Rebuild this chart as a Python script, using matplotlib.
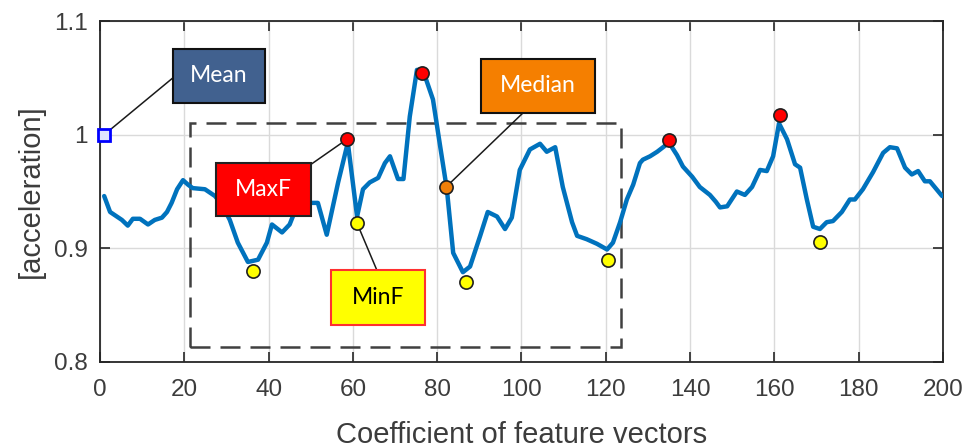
import matplotlib
matplotlib.use("Agg")
from matplotlib import pyplot as plt
from matplotlib.patches import Rectangle

# acceleration trace along the feature-vector coefficients
coef = [1, 2.4, 4, 5.2, 6.6, 7.8, 9.5, 11.4, 13, 14.7, 15.9, 17, 18.3, 19.7, 20.9,
        22, 24.9, 27.3, 29, 30.8, 32.7, 35.1, 37.5, 39.6, 40.8, 43.2, 45, 46.5, 48,
        49.8, 51.7, 53.8, 56.5, 58.8, 61, 62.4, 64, 66, 67.6, 68.8, 70.7, 72, 73.5,
        75.2, 76.6, 79, 80.7, 82.3, 83.8, 86.1, 87.8, 90.2, 92, 94.2, 96.1, 97.7,
        99.6, 102, 104.4, 106, 108, 109.8, 112, 113.2, 115.5, 117.9, 120.3, 121.7,
        123.4, 125, 126.5, 128.1, 128.8, 130.5, 132.2, 133.6, 135, 136.9, 138.3,
        140.5, 142.3, 144.7, 146.1, 147.1, 148.8, 151.1, 153, 154.7, 156.6, 158.2,
        159.7, 161.1, 163, 164.9, 166.1, 167.7, 169.2, 170.8, 172.4, 173.9, 176,
        177.9, 179.1, 181, 183.4, 185.8, 187.4, 189.1, 191, 192.6, 194.1, 195.7,
        196.9, 199.8]
accel = [0.946, 0.932, 0.928, 0.925, 0.920, 0.926, 0.926, 0.921, 0.925, 0.927, 0.932,
         0.940, 0.952, 0.960, 0.956, 0.953, 0.952, 0.946, 0.938, 0.925, 0.905, 0.888,
         0.890, 0.905, 0.921, 0.914, 0.921, 0.935, 0.942, 0.940, 0.940, 0.912, 0.958,
         0.993, 0.928, 0.952, 0.958, 0.962, 0.975, 0.981, 0.961, 0.961, 1.016, 1.057,
         1.057, 1.031, 0.990, 0.952, 0.896, 0.879, 0.884, 0.911, 0.932, 0.928, 0.917,
         0.927, 0.969, 0.987, 0.992, 0.985, 0.989, 0.954, 0.923, 0.911, 0.908, 0.904,
         0.899, 0.905, 0.923, 0.943, 0.956, 0.975, 0.978, 0.981, 0.985, 0.989, 0.993,
         0.982, 0.972, 0.963, 0.954, 0.947, 0.941, 0.936, 0.937, 0.950, 0.947, 0.954,
         0.969, 0.968, 0.981, 1.010, 0.996, 0.974, 0.971, 0.943, 0.919, 0.917, 0.923,
         0.924, 0.932, 0.943, 0.943, 0.952, 0.967, 0.984, 0.989, 0.988, 0.971, 0.965,
         0.968, 0.959, 0.959, 0.946]

# local extrema and summary points
maxf_x = [58.6, 76.4, 135, 161.3]
maxf_y = [0.996, 1.054, 0.995, 1.017]
minf_x = [36.3, 61, 86.8, 120.5, 170.8]
minf_y = [0.880, 0.922, 0.870, 0.890, 0.906]
median_x, median_y = 82.1, 0.954
mean_x, mean_y = 1, 1.0

# analysis window (dashed frame)
window_x = (21.4, 123.6)
window_y = (0.813, 1.0105)

xticks = [0, 20, 40, 60, 80, 100, 120, 140, 160, 180, 200]
yticks = [0.8, 0.9, 1.0, 1.1]
ytick_labels = ["0.8", "0.9", "1", "1.1"]

DARK = "#262626"
TEXT = "#3c3c3c"
plt.rcParams["font.family"] = ["Liberation Sans", "DejaVu Sans"]

fig = plt.figure(figsize=(9.64, 4.48), dpi=100)
ax = fig.add_axes([0.1037, 0.192, 0.8745, 0.761])

ax.plot(coef, accel, color="#0072BD", lw=3.2, zorder=3, solid_capstyle="round")

ax.add_patch(Rectangle((window_x[0], window_y[0]), window_x[1] - window_x[0],
                       window_y[1] - window_y[0], fill=False, edgecolor="#404040",
                       lw=1.8, linestyle=(0, (8, 4)), zorder=2))

ax.plot(maxf_x, maxf_y, "o", ms=9.5, mfc="#ff0000", mec="#202020", mew=1.2, zorder=5)
ax.plot(minf_x, minf_y, "o", ms=9.5, mfc="#ffff00", mec="#202020", mew=1.2, zorder=5)
ax.plot([median_x], [median_y], "o", ms=9.5, mfc="#f07f09", mec="#202020", mew=1.2, zorder=5)
ax.plot([mean_x], [mean_y], "s", ms=8, mfc="#dfe6ff", mec="#0000ff", mew=2, zorder=5,
        clip_on=False)

# labelled callout boxes: (text, lower-left, size, fill, edge, text colour, anchor, target)
callouts = [
    ("Mean", (17.3, 1.0281), (21.8, 0.0473), "#41618f", "#111111", "white",
     (17.3, 1.05), (mean_x, mean_y)),
    ("MaxF", (27.5, 0.9281), (22.6, 0.0473), "#ff0000", "#222222", "white",
     (50.1, 0.974), (maxf_x[0], maxf_y[0])),
    ("Median", (90.4, 1.0193), (27.0, 0.0474), "#f57f00", "#111111", "white",
     (100.4, 1.0193), (median_x, median_y)),
    ("MinF", (54.8, 0.8325), (22.3, 0.0482), "#ffff00", "#ff3030", "black",
     (65.7, 0.8807), (minf_x[1], minf_y[1])),
]
for text, (bx, by), (bw, bh), fill, edge, tcol, anchor, target in callouts:
    ax.annotate("", xy=target, xytext=anchor,
                arrowprops=dict(arrowstyle="-", color="#1a1a1a", lw=1.1,
                                shrinkA=0, shrinkB=5), zorder=4)
    ax.add_patch(Rectangle((bx, by), bw, bh, facecolor=fill, edgecolor=edge,
                           lw=1.5, zorder=6))
    ax.text(bx + bw / 2, by + bh / 2, text, color=tcol, fontsize=16.5,
            family=["Lato", "DejaVu Sans"], ha="center", va="center", zorder=7)

ax.set_xlim(0, 200)
ax.set_ylim(0.8, 1.1)
ax.set_xticks(xticks)
ax.set_yticks(yticks)
ax.set_yticklabels(ytick_labels)
ax.grid(True, color="#dadada", lw=1.0)
ax.set_axisbelow(True)
ax.tick_params(direction="in", top=True, right=True, length=7, width=1.2,
               color=DARK, labelcolor=TEXT, labelsize=17.5)
ax.tick_params(axis="x", pad=12)
ax.tick_params(axis="y", pad=9)
for side in ax.spines.values():
    side.set_color(DARK)
    side.set_linewidth(1.3)

ax.set_xlabel("Coefficient of feature vectors", fontsize=21, color=TEXT, labelpad=15)
ax.set_ylabel("[acceleration]", fontsize=21, color=TEXT, labelpad=6)

fig.savefig("out.png", dpi=100)
